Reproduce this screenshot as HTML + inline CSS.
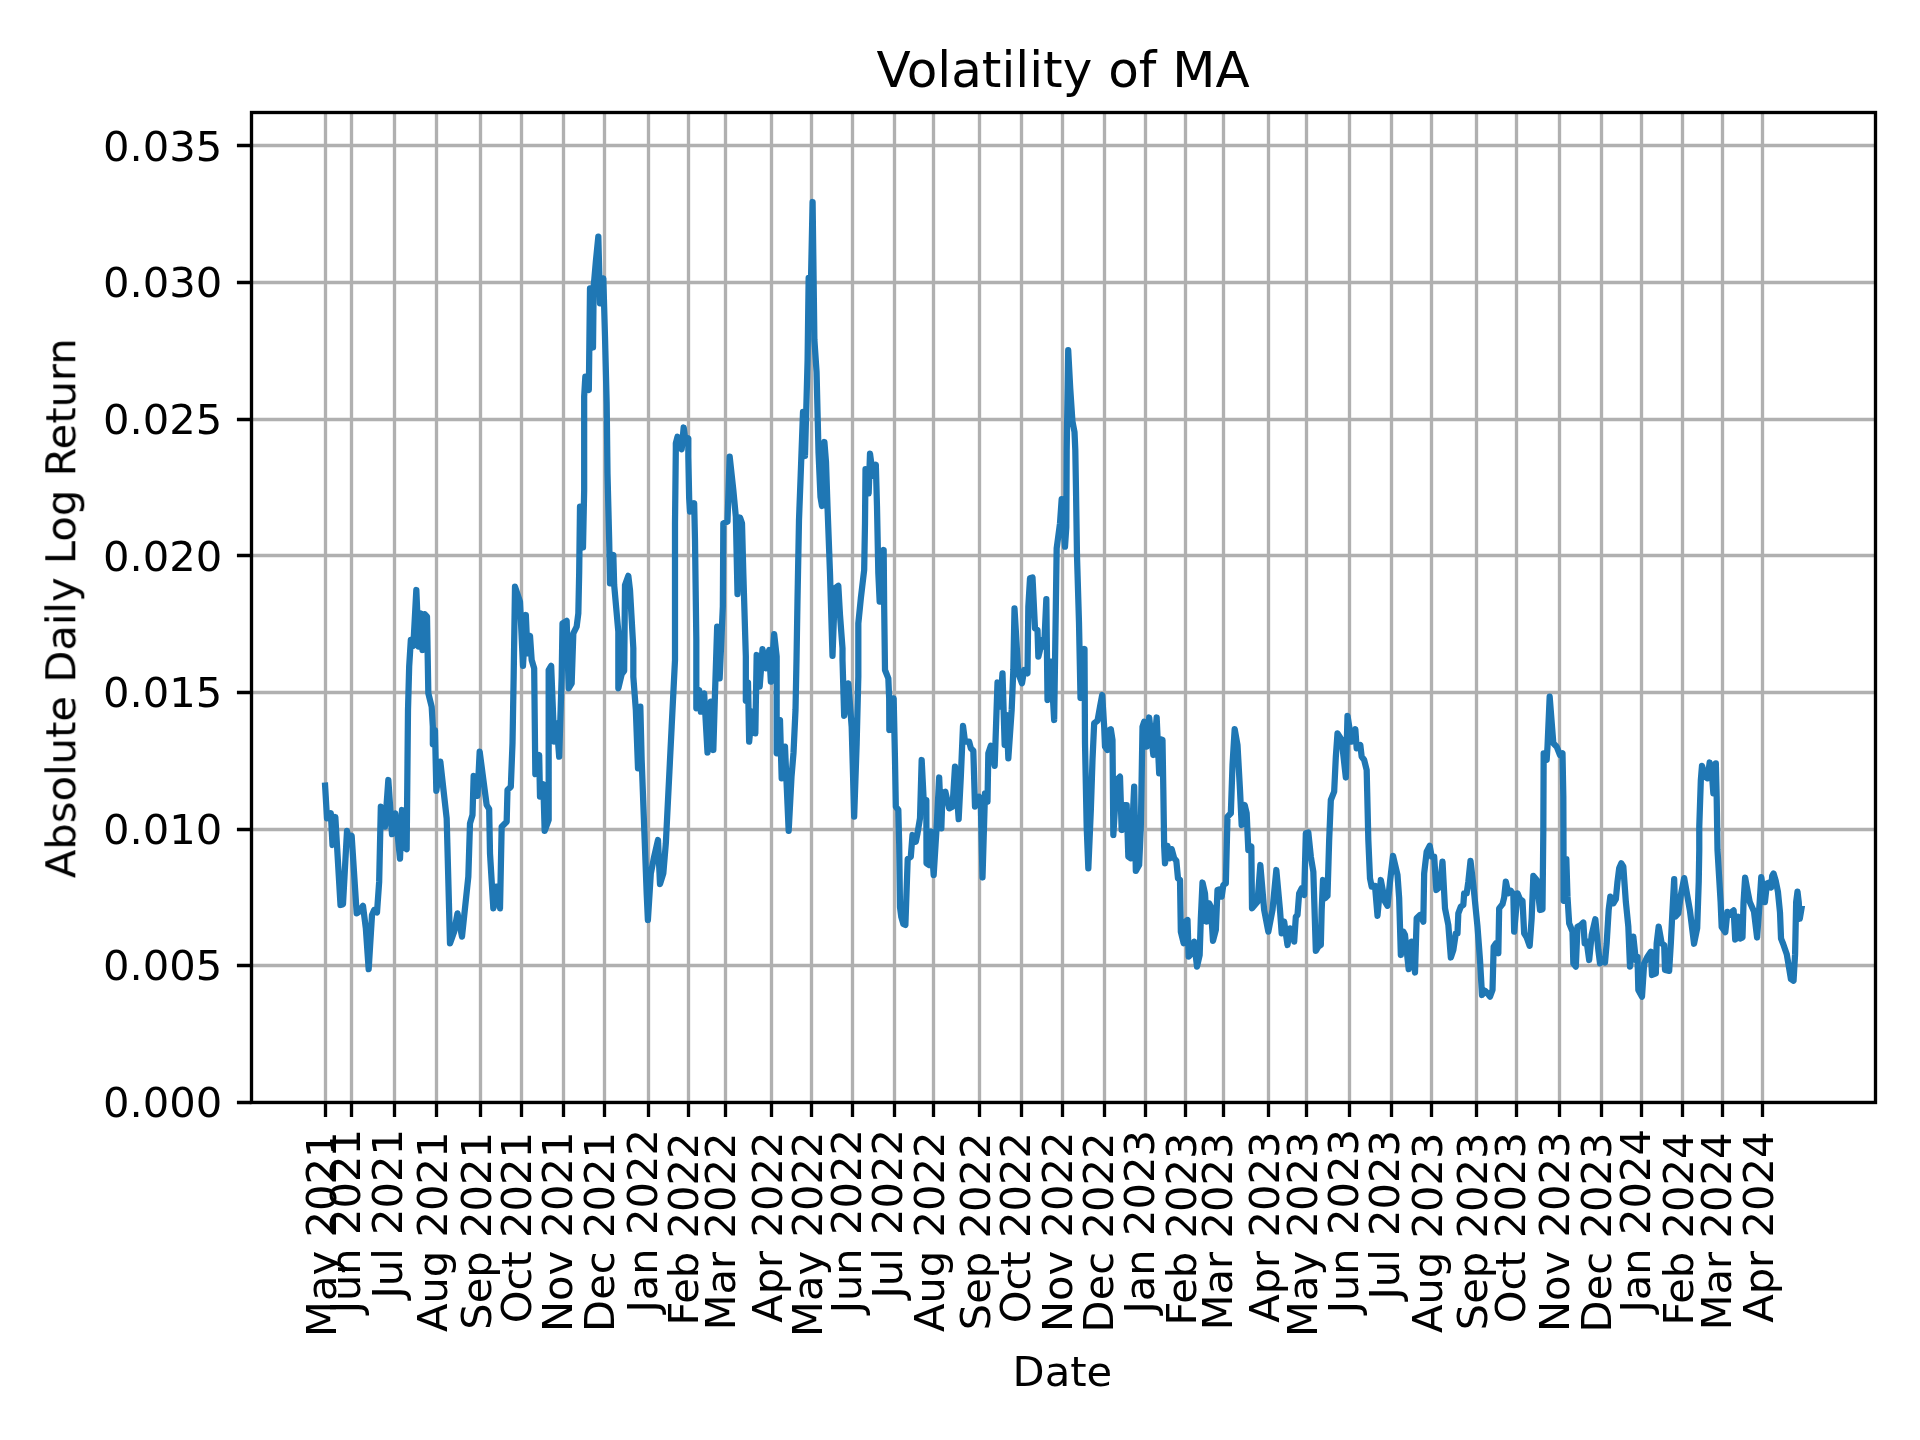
<!DOCTYPE html>
<html lang="en"><head><meta charset="utf-8"><title>Volatility of MA</title>
<style>html,body{margin:0;padding:0;background:#fff}body{width:1920px;height:1440px;overflow:hidden}svg{display:block}text{font-family:"DejaVu Sans","Liberation Sans",sans-serif;fill:#000}.t10{font-size:41.667px}.t12{font-size:50px}</style></head><body>
<svg width="1920" height="1440" viewBox="0 0 1920 1440">
<rect width="1920" height="1440" fill="#fff"/>
<clipPath id="c"><rect x="251.5" y="112.5" width="1624.0" height="990.0"/></clipPath>
<path d="M325.5 112.5V1102.5M351.5 112.5V1102.5M394.5 112.5V1102.5M436.5 112.5V1102.5M480.5 112.5V1102.5M521.5 112.5V1102.5M563.5 112.5V1102.5M604.5 112.5V1102.5M648.5 112.5V1102.5M688.5 112.5V1102.5M725.5 112.5V1102.5M771.5 112.5V1102.5M811.5 112.5V1102.5M852.5 112.5V1102.5M894.5 112.5V1102.5M933.5 112.5V1102.5M979.5 112.5V1102.5M1021.5 112.5V1102.5M1062.5 112.5V1102.5M1104.5 112.5V1102.5M1145.5 112.5V1102.5M1185.5 112.5V1102.5M1223.5 112.5V1102.5M1268.5 112.5V1102.5M1306.5 112.5V1102.5M1349.5 112.5V1102.5M1391.5 112.5V1102.5M1431.5 112.5V1102.5M1476.5 112.5V1102.5M1516.5 112.5V1102.5M1559.5 112.5V1102.5M1601.5 112.5V1102.5M1641.5 112.5V1102.5M1682.5 112.5V1102.5M1722.5 112.5V1102.5M1762.5 112.5V1102.5M251.5 1102.50H1875.5M251.5 965.50H1875.5M251.5 829.50H1875.5M251.5 692.50H1875.5M251.5 555.50H1875.5M251.5 419.50H1875.5M251.5 282.50H1875.5M251.5 145.50H1875.5" stroke="#b0b0b0" stroke-width="3.333" fill="none" clip-path="url(#c)"/>
<path d="M325.5 1102.5v14.58M351.5 1102.5v14.58M394.5 1102.5v14.58M436.5 1102.5v14.58M480.5 1102.5v14.58M521.5 1102.5v14.58M563.5 1102.5v14.58M604.5 1102.5v14.58M648.5 1102.5v14.58M688.5 1102.5v14.58M725.5 1102.5v14.58M771.5 1102.5v14.58M811.5 1102.5v14.58M852.5 1102.5v14.58M894.5 1102.5v14.58M933.5 1102.5v14.58M979.5 1102.5v14.58M1021.5 1102.5v14.58M1062.5 1102.5v14.58M1104.5 1102.5v14.58M1145.5 1102.5v14.58M1185.5 1102.5v14.58M1223.5 1102.5v14.58M1268.5 1102.5v14.58M1306.5 1102.5v14.58M1349.5 1102.5v14.58M1391.5 1102.5v14.58M1431.5 1102.5v14.58M1476.5 1102.5v14.58M1516.5 1102.5v14.58M1559.5 1102.5v14.58M1601.5 1102.5v14.58M1641.5 1102.5v14.58M1682.5 1102.5v14.58M1722.5 1102.5v14.58M1762.5 1102.5v14.58M251.5 1102.50h-14.58M251.5 965.50h-14.58M251.5 829.50h-14.58M251.5 692.50h-14.58M251.5 555.50h-14.58M251.5 419.50h-14.58M251.5 282.50h-14.58M251.5 145.50h-14.58" stroke="#000" stroke-width="3.333" fill="none"/>
<path d="M325.10 785.60 L327.00 818.33 L330.83 813.33 L332.50 845.00 L335.33 817.00 L340.50 905.00 L343.00 904.17 L347.00 830.83 L348.83 841.67 L351.67 835.83 L356.67 913.33 L359.17 911.67 L363.00 905.83 L365.83 928.33 L368.67 969.17 L372.00 915.00 L374.17 910.00 L377.00 912.50 L379.17 881.67 L380.83 806.67 L385.00 826.67 L388.33 780.00 L392.00 834.17 L395.33 813.33 L397.50 833.33 L400.00 858.67 L402.00 810.00 L404.17 846.67 L406.67 849.17 L408.00 710.00 L409.17 666.67 L410.83 640.00 L413.33 645.83 L416.33 590.00 L418.67 646.67 L420.33 613.33 L422.50 650.00 L424.67 614.17 L427.00 616.67 L428.33 693.33 L431.67 706.67 L432.83 726.67 L432.83 744.17 L435.00 730.00 L436.33 790.83 L440.33 761.67 L446.67 818.33 L450.00 943.33 L454.17 931.67 L457.50 913.33 L462.00 936.67 L468.33 876.67 L470.00 823.33 L472.50 815.00 L473.67 775.83 L477.50 795.83 L479.67 751.67 L486.67 805.00 L489.17 809.17 L490.00 853.33 L493.33 908.33 L496.33 886.67 L500.00 908.33 L501.67 826.67 L506.67 821.67 L507.50 790.00 L510.83 786.67 L512.50 743.33 L513.67 676.67 L515.00 586.67 L520.00 601.67 L523.00 665.83 L525.83 615.00 L527.50 653.33 L530.00 635.83 L531.67 660.00 L534.17 668.33 L535.33 774.17 L539.17 755.00 L540.00 796.67 L543.33 784.17 L544.67 830.83 L548.67 820.00 L548.67 670.00 L551.17 665.83 L554.17 741.67 L556.67 723.33 L559.17 756.67 L561.67 676.67 L562.50 623.33 L566.67 620.83 L568.67 688.33 L571.67 683.33 L573.33 633.33 L576.67 626.67 L578.33 613.33 L579.17 573.33 L580.00 506.67 L583.00 547.50 L584.17 490.00 L584.17 396.67 L585.33 376.67 L588.83 390.00 L590.00 288.33 L593.00 347.50 L593.67 286.67 L595.83 261.67 L598.33 236.67 L600.00 303.33 L603.33 278.33 L605.00 336.67 L606.67 403.33 L607.50 473.33 L609.17 540.00 L610.00 583.33 L613.33 555.00 L614.17 585.00 L618.33 631.67 L618.33 688.33 L621.67 674.17 L624.17 670.83 L625.00 585.00 L628.33 575.83 L630.00 590.00 L633.33 648.33 L633.33 676.67 L635.83 710.00 L638.00 768.33 L640.33 706.67 L641.67 760.00 L644.17 826.67 L646.67 893.33 L647.90 920.00 L650.83 873.33 L654.17 856.67 L658.00 840.00 L660.00 884.17 L663.33 873.33 L665.83 843.33 L668.33 793.33 L671.67 726.67 L675.00 660.00 L675.00 606.67 L675.00 523.33 L675.83 448.33 L675.83 443.33 L677.50 436.67 L681.67 449.17 L683.67 427.50 L685.83 443.33 L688.33 438.33 L688.33 456.67 L689.17 498.33 L690.00 511.67 L694.17 503.33 L695.00 540.00 L696.33 640.00 L696.33 686.67 L696.33 708.33 L699.17 690.00 L700.83 711.67 L704.17 693.33 L707.50 752.50 L710.83 701.67 L713.33 750.00 L715.00 693.33 L717.17 626.67 L719.67 678.33 L722.83 606.67 L723.33 523.33 L727.50 521.67 L729.67 456.67 L733.33 490.00 L735.83 516.67 L737.50 594.17 L740.00 517.50 L742.00 523.33 L743.33 573.33 L745.83 656.67 L745.83 700.83 L748.00 682.50 L749.17 741.67 L752.00 711.67 L755.33 733.33 L756.67 655.00 L759.67 686.67 L762.50 649.17 L765.83 668.33 L769.17 650.00 L770.83 681.67 L774.17 634.17 L776.67 656.67 L776.67 685.00 L776.67 753.33 L780.00 720.00 L781.67 778.33 L785.00 746.67 L788.67 830.83 L791.50 777.00 L793.50 753.00 L795.50 710.00 L796.50 660.00 L797.50 600.00 L799.00 520.00 L800.50 480.00 L803.00 412.00 L805.00 456.00 L807.60 360.00 L808.65 278.00 L810.60 298.00 L812.60 202.00 L814.40 340.00 L816.56 372.00 L818.54 453.00 L820.50 497.00 L822.00 506.00 L824.40 442.00 L826.00 462.00 L827.50 506.67 L830.00 573.33 L832.50 655.83 L835.00 588.33 L838.33 585.83 L840.00 615.00 L842.50 648.33 L842.50 660.00 L844.17 715.83 L848.33 683.33 L851.67 726.67 L854.17 816.67 L856.67 743.33 L858.33 676.67 L858.33 623.33 L860.83 598.33 L864.17 570.00 L865.00 523.33 L865.50 469.17 L868.67 493.33 L870.00 453.67 L873.00 475.83 L875.83 464.67 L877.00 506.67 L878.33 573.33 L879.67 601.67 L883.67 550.00 L884.17 606.67 L885.00 670.00 L888.33 678.33 L889.17 698.33 L889.33 730.00 L893.67 698.33 L895.00 760.00 L895.83 806.67 L898.33 810.00 L899.17 843.33 L900.00 907.00 L901.30 917.00 L903.30 924.00 L905.40 925.00 L907.70 859.00 L910.80 856.70 L912.50 835.00 L915.83 841.67 L917.50 833.33 L920.00 818.33 L921.67 760.00 L924.17 810.00 L926.33 800.00 L926.50 863.33 L929.17 865.00 L930.83 831.67 L933.67 875.00 L936.67 826.67 L939.17 777.50 L941.33 828.33 L942.50 793.33 L945.33 791.67 L949.17 808.33 L952.50 806.67 L955.00 766.67 L958.67 819.17 L960.83 776.67 L963.00 725.83 L965.00 741.67 L969.17 741.67 L970.83 748.33 L973.33 750.83 L975.00 806.67 L979.17 796.67 L980.83 805.00 L982.50 877.50 L985.00 793.33 L987.50 801.67 L988.33 753.33 L990.83 745.83 L994.67 765.83 L997.50 682.50 L1000.00 706.67 L1002.50 673.33 L1004.67 745.00 L1006.67 715.00 L1008.33 758.33 L1011.67 710.00 L1013.33 670.00 L1014.50 608.33 L1018.33 673.33 L1022.00 683.33 L1024.17 670.00 L1027.50 673.33 L1028.33 606.67 L1030.00 578.33 L1032.50 577.50 L1035.00 628.33 L1037.50 630.00 L1038.33 656.67 L1042.50 640.00 L1044.17 646.67 L1046.33 599.17 L1047.50 700.00 L1050.83 661.67 L1054.17 720.00 L1055.83 606.67 L1056.67 548.33 L1060.00 523.33 L1061.67 499.17 L1065.00 546.67 L1066.30 527.00 L1066.70 450.00 L1068.20 350.20 L1070.20 388.00 L1072.40 421.00 L1074.50 432.00 L1075.30 450.00 L1076.00 490.00 L1077.00 556.00 L1079.00 623.00 L1080.50 698.00 L1084.50 649.00 L1085.00 743.33 L1086.67 826.67 L1088.33 868.33 L1090.83 810.00 L1092.50 760.00 L1094.17 723.33 L1097.50 720.83 L1100.00 706.67 L1102.17 695.00 L1104.17 726.67 L1105.00 746.67 L1107.50 750.00 L1108.33 730.83 L1110.83 729.17 L1112.50 740.00 L1113.33 835.00 L1116.67 780.00 L1120.00 776.67 L1121.67 830.00 L1123.33 805.00 L1126.67 805.00 L1128.33 856.67 L1130.83 858.33 L1134.17 786.67 L1135.83 870.83 L1139.17 865.00 L1140.83 826.67 L1142.50 726.67 L1144.17 721.67 L1146.67 746.67 L1149.17 717.50 L1153.33 755.00 L1156.67 717.50 L1159.17 773.33 L1160.33 739.17 L1162.50 740.00 L1163.33 790.00 L1164.17 846.67 L1165.00 863.33 L1167.50 845.83 L1169.67 858.33 L1171.67 849.17 L1174.17 858.33 L1176.33 860.83 L1178.00 878.33 L1180.00 880.00 L1180.83 931.67 L1183.67 943.33 L1185.33 921.67 L1187.50 920.00 L1188.67 956.67 L1191.67 953.33 L1194.17 941.67 L1197.00 966.67 L1199.67 955.00 L1200.83 918.33 L1202.50 882.50 L1205.00 893.33 L1206.67 921.67 L1209.17 903.33 L1210.83 906.67 L1213.00 940.83 L1215.83 930.00 L1217.50 890.00 L1220.00 889.17 L1221.67 896.67 L1223.33 885.00 L1225.83 883.33 L1227.50 816.67 L1230.83 813.33 L1232.50 765.00 L1234.67 729.17 L1237.50 745.00 L1240.00 790.00 L1241.67 825.00 L1244.67 805.00 L1246.67 813.33 L1248.33 850.00 L1251.33 846.67 L1252.00 908.33 L1257.50 901.67 L1260.33 865.00 L1264.17 910.00 L1268.33 931.67 L1272.50 910.00 L1276.33 870.00 L1280.00 910.00 L1281.67 933.33 L1284.17 921.67 L1287.50 945.00 L1290.00 928.33 L1292.50 930.00 L1294.17 941.67 L1295.83 916.67 L1297.50 915.00 L1299.17 893.33 L1301.67 888.33 L1304.17 895.00 L1305.83 833.33 L1308.33 832.50 L1310.83 856.67 L1313.33 871.67 L1315.83 950.83 L1318.33 946.67 L1320.83 945.00 L1321.67 910.00 L1323.00 880.00 L1325.00 898.33 L1327.50 895.83 L1329.17 840.00 L1330.83 800.00 L1334.17 791.67 L1335.83 756.67 L1337.50 733.33 L1341.67 740.00 L1345.83 777.50 L1347.50 715.83 L1351.67 741.67 L1355.33 729.17 L1356.67 748.33 L1360.33 745.00 L1361.67 756.67 L1364.17 760.00 L1366.67 770.00 L1368.33 840.00 L1370.00 878.33 L1371.67 886.67 L1375.00 885.83 L1377.50 915.83 L1380.83 880.00 L1385.00 901.67 L1387.50 905.83 L1390.00 881.67 L1393.00 855.83 L1397.50 875.00 L1399.17 898.33 L1400.83 955.00 L1403.33 931.67 L1405.00 935.00 L1408.67 969.17 L1411.67 941.67 L1415.00 972.50 L1416.67 918.33 L1420.00 915.00 L1423.33 921.67 L1424.17 873.33 L1426.67 851.67 L1429.67 845.83 L1431.67 856.67 L1434.17 856.67 L1436.33 890.00 L1440.00 886.67 L1442.50 861.67 L1445.00 908.33 L1448.33 925.00 L1450.83 957.50 L1453.33 950.00 L1455.83 933.33 L1457.50 933.33 L1458.33 913.33 L1460.83 906.67 L1463.33 905.00 L1464.17 893.33 L1466.67 893.33 L1468.33 881.67 L1470.50 860.83 L1473.33 885.00 L1477.50 926.67 L1480.00 960.00 L1482.00 995.00 L1485.00 990.83 L1487.50 993.33 L1490.00 996.67 L1492.50 990.00 L1493.67 946.67 L1495.83 943.33 L1498.33 953.33 L1499.17 908.33 L1502.50 904.17 L1504.17 897.50 L1505.83 881.67 L1508.33 893.33 L1510.83 890.83 L1513.33 894.17 L1514.17 931.67 L1517.50 893.33 L1520.00 899.17 L1522.50 900.83 L1524.17 933.33 L1526.67 937.50 L1529.67 945.83 L1531.67 918.33 L1533.33 875.83 L1536.67 880.00 L1540.00 910.00 L1542.50 909.17 L1543.33 830.00 L1543.67 753.33 L1546.67 760.00 L1547.50 746.67 L1549.67 696.67 L1553.33 743.33 L1556.67 746.67 L1560.00 755.00 L1562.50 753.33 L1563.33 796.67 L1563.50 846.67 L1563.67 900.83 L1566.33 859.17 L1567.50 896.67 L1569.17 923.33 L1572.50 931.67 L1573.33 963.33 L1575.83 966.67 L1577.50 926.67 L1580.83 925.00 L1583.33 922.50 L1584.67 943.33 L1586.67 941.67 L1589.17 960.00 L1591.67 935.00 L1595.33 919.17 L1598.33 950.00 L1600.00 963.33 L1602.50 960.00 L1605.00 962.50 L1606.67 943.33 L1608.67 910.00 L1610.33 896.67 L1613.33 903.33 L1615.83 899.17 L1617.50 881.67 L1619.17 868.33 L1621.33 863.33 L1623.33 866.67 L1625.83 901.67 L1628.33 926.67 L1630.00 966.67 L1633.33 936.67 L1635.83 960.00 L1637.50 956.67 L1638.33 990.00 L1642.00 996.67 L1644.17 963.33 L1647.50 956.67 L1650.83 951.67 L1652.00 975.00 L1655.83 973.33 L1656.67 943.33 L1658.67 926.67 L1661.67 943.33 L1664.17 945.00 L1665.00 970.00 L1669.17 970.83 L1670.83 943.33 L1672.50 910.00 L1674.17 879.17 L1675.33 916.67 L1678.33 913.33 L1680.83 895.00 L1684.17 878.12 L1689.90 910.42 L1694.06 943.75 L1697.19 928.12 L1698.75 881.25 L1699.27 850.00 L1699.27 826.67 L1700.83 780.00 L1702.00 765.83 L1705.00 776.67 L1707.50 778.33 L1709.67 762.50 L1712.00 775.00 L1713.33 793.33 L1715.83 763.33 L1716.67 796.67 L1717.50 850.00 L1719.06 876.04 L1720.62 902.08 L1721.67 927.08 L1725.31 932.29 L1727.40 911.98 L1730.00 914.58 L1731.04 912.50 L1733.65 910.42 L1735.21 939.58 L1736.77 922.92 L1738.33 916.67 L1740.42 938.54 L1742.50 937.50 L1743.54 902.08 L1745.10 877.60 L1747.71 891.67 L1749.79 902.08 L1753.96 911.46 L1757.08 937.50 L1759.69 902.08 L1761.25 877.08 L1763.33 891.67 L1764.90 902.08 L1766.98 883.33 L1769.58 882.29 L1771.15 887.50 L1772.19 876.04 L1773.54 873.44 L1775.83 881.25 L1777.92 891.67 L1780.00 912.50 L1781.04 938.54 L1783.12 943.75 L1786.77 954.17 L1789.38 969.79 L1790.94 979.17 L1793.54 980.73 L1795.10 954.17 L1796.15 902.08 L1797.50 891.67 L1798.75 902.08 L1799.79 918.75 L1801.50 908.50" stroke="#1f77b4" stroke-width="6.25" fill="none" stroke-linejoin="round" stroke-linecap="square" clip-path="url(#c)"/>
<rect x="251.5" y="112.5" width="1624.0" height="990.0" fill="none" stroke="#000" stroke-width="3.333" stroke-linejoin="miter"/>
<g opacity="0.999">
<text class="t10" text-anchor="end" transform="translate(335.5 1131.5) rotate(-90)">May 2021</text>
<text class="t10" text-anchor="end" transform="translate(359.5 1129.0) rotate(-90)">Jun 2021</text>
<text class="t10" text-anchor="end" transform="translate(402.0 1129.0) rotate(-90)">Jul 2021</text>
<text class="t10" text-anchor="end" transform="translate(446.5 1131.5) rotate(-90)">Aug 2021</text>
<text class="t10" text-anchor="end" transform="translate(490.5 1132.0) rotate(-90)">Sep 2021</text>
<text class="t10" text-anchor="end" transform="translate(531.0 1132.0) rotate(-90)">Oct 2021</text>
<text class="t10" text-anchor="end" transform="translate(572.0 1131.5) rotate(-90)">Nov 2021</text>
<text class="t10" text-anchor="end" transform="translate(614.0 1132.0) rotate(-90)">Dec 2021</text>
<text class="t10" text-anchor="end" transform="translate(656.5 1129.0) rotate(-90)">Jan 2022</text>
<text class="t10" text-anchor="end" transform="translate(697.5 1132.5) rotate(-90)">Feb 2022</text>
<text class="t10" text-anchor="end" transform="translate(735.0 1132.5) rotate(-90)">Mar 2022</text>
<text class="t10" text-anchor="end" transform="translate(781.5 1131.5) rotate(-90)">Apr 2022</text>
<text class="t10" text-anchor="end" transform="translate(821.5 1131.5) rotate(-90)">May 2022</text>
<text class="t10" text-anchor="end" transform="translate(860.5 1129.0) rotate(-90)">Jun 2022</text>
<text class="t10" text-anchor="end" transform="translate(902.0 1129.0) rotate(-90)">Jul 2022</text>
<text class="t10" text-anchor="end" transform="translate(943.5 1131.5) rotate(-90)">Aug 2022</text>
<text class="t10" text-anchor="end" transform="translate(989.5 1132.5) rotate(-90)">Sep 2022</text>
<text class="t10" text-anchor="end" transform="translate(1030.0 1132.0) rotate(-90)">Oct 2022</text>
<text class="t10" text-anchor="end" transform="translate(1072.0 1131.5) rotate(-90)">Nov 2022</text>
<text class="t10" text-anchor="end" transform="translate(1113.0 1132.5) rotate(-90)">Dec 2022</text>
<text class="t10" text-anchor="end" transform="translate(1153.5 1130.0) rotate(-90)">Jan 2023</text>
<text class="t10" text-anchor="end" transform="translate(1195.5 1132.5) rotate(-90)">Feb 2023</text>
<text class="t10" text-anchor="end" transform="translate(1232.0 1132.5) rotate(-90)">Mar 2023</text>
<text class="t10" text-anchor="end" transform="translate(1278.5 1131.5) rotate(-90)">Apr 2023</text>
<text class="t10" text-anchor="end" transform="translate(1316.5 1131.5) rotate(-90)">May 2023</text>
<text class="t10" text-anchor="end" transform="translate(1357.5 1129.0) rotate(-90)">Jun 2023</text>
<text class="t10" text-anchor="end" transform="translate(1399.0 1130.0) rotate(-90)">Jul 2023</text>
<text class="t10" text-anchor="end" transform="translate(1441.5 1132.5) rotate(-90)">Aug 2023</text>
<text class="t10" text-anchor="end" transform="translate(1486.5 1132.5) rotate(-90)">Sep 2023</text>
<text class="t10" text-anchor="end" transform="translate(1525.0 1132.0) rotate(-90)">Oct 2023</text>
<text class="t10" text-anchor="end" transform="translate(1569.0 1131.5) rotate(-90)">Nov 2023</text>
<text class="t10" text-anchor="end" transform="translate(1611.0 1132.5) rotate(-90)">Dec 2023</text>
<text class="t10" text-anchor="end" transform="translate(1649.5 1129.0) rotate(-90)">Jan 2024</text>
<text class="t10" text-anchor="end" transform="translate(1692.5 1132.5) rotate(-90)">Feb 2024</text>
<text class="t10" text-anchor="end" transform="translate(1731.0 1132.5) rotate(-90)">Mar 2024</text>
<text class="t10" text-anchor="end" transform="translate(1772.5 1131.5) rotate(-90)">Apr 2024</text>
<text class="t10" text-anchor="end" x="222.3" y="1117.10">0.000</text>
<text class="t10" text-anchor="end" x="222.3" y="980.45">0.005</text>
<text class="t10" text-anchor="end" x="222.3" y="843.80">0.010</text>
<text class="t10" text-anchor="end" x="222.3" y="707.15">0.015</text>
<text class="t10" text-anchor="end" x="222.3" y="570.50">0.020</text>
<text class="t10" text-anchor="end" x="222.3" y="433.85">0.025</text>
<text class="t10" text-anchor="end" x="222.3" y="297.20">0.030</text>
<text class="t10" text-anchor="end" x="222.3" y="160.55">0.035</text>
<text class="t12" text-anchor="middle" x="1063.0" y="86.6">Volatility of MA</text>
<text class="t10" text-anchor="middle" x="1062.4" y="1386.1">Date</text>
<text class="t10" text-anchor="middle" transform="translate(75.3 608.2) rotate(-90)">Absolute Daily Log Return</text>
</g>
</svg></body></html>
